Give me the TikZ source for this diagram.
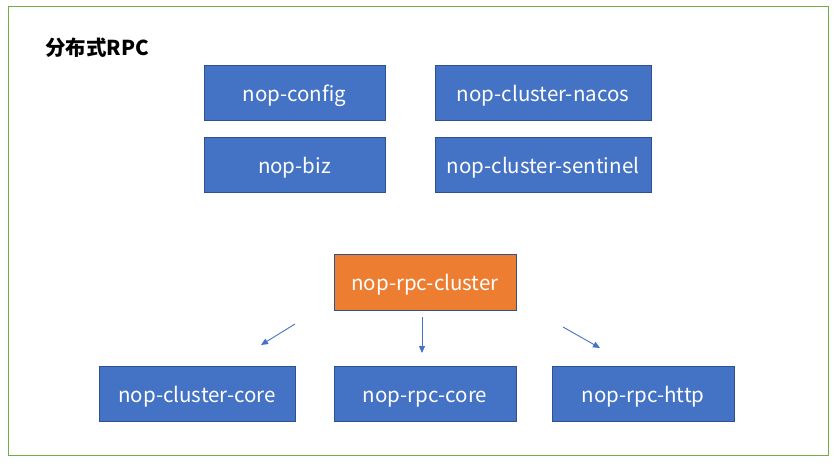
\documentclass[tikz,border=0pt]{standalone}
\usepackage{fontspec}
\setmainfont{Noto Sans CJK SC}
\usetikzlibrary{arrows.meta}
\definecolor{boxblue}{HTML}{4472C4}
\definecolor{boxline}{HTML}{2F528F}
\definecolor{boxorange}{HTML}{ED7D31}
\definecolor{framegreen}{HTML}{70AD47}
\tikzset{
	module/.style={draw=boxline, fill=boxblue, text=white, line width=0.9pt, inner sep=0pt, minimum height=55pt, text height=17pt, text depth=0pt, font=\fontsize{20.5}{24}\selectfont},
	core/.style={module, fill=boxorange},
	dep/.style={draw=boxblue, line width=0.9pt, -{Triangle[width=6pt,length=7pt]}}
}
\begin{document}
\begin{tikzpicture}[x=1pt, y=-1pt]
		\useasboundingbox (0,0) rectangle (839,466);
		\draw[draw=framegreen, line width=1pt] (8,6) rectangle (828,455);
		\node[anchor=base west, inner sep=0pt, font=\bfseries\fontsize{20.5}{24}\selectfont] (title) at (45,55) {分布式RPC};
		% top modules
		\node[module, minimum width=181pt] (config) at (294.5,92.5) {nop-config};
		\node[module, minimum width=181pt] (biz) at (294.5,164.5) {nop-biz};
		\node[module, minimum width=216pt] (nacos) at (543,92.5) {nop-cluster-nacos};
		\node[module, minimum width=216pt] (sentinel) at (543,164.5) {nop-cluster-sentinel};
		% rpc cluster
		\node[core, minimum width=182pt, minimum height=56pt] (rpccluster) at (425,282) {nop-rpc-cluster};
		\node[module, minimum width=196pt] (clustercore) at (197,393.5) {nop-cluster-core};
		\node[module, minimum width=182pt] (rpccore) at (425,393.5) {nop-rpc-core};
		\node[module, minimum width=182pt] (rpchttp) at (643,393.5) {nop-rpc-http};
		% arrows
		\coordinate (ls) at (295,324);
		\coordinate (le) at (261,345);
		\coordinate (ms) at (422,317);
		\coordinate (me) at (422,353);
		\coordinate (rs) at (563,327);
		\coordinate (re) at (600,348);
		\draw[dep] (ls) -- (le);
		\draw[dep] (ms) -- (me);
		\draw[dep] (rs) -- (re);
	\end{tikzpicture}
\end{document}
